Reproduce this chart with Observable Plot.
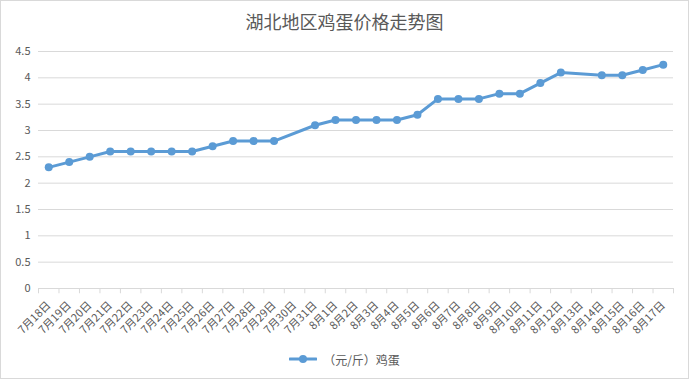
<!DOCTYPE html>
<html>
<head>
<meta charset="utf-8">
<script src="https://cdn.jsdelivr.net/npm/d3@7"></script>
<script src="https://cdn.jsdelivr.net/npm/@observablehq/plot@0.6"></script>
<style>
  body { margin: 0; background: #fff; }
  #wrap { position: relative; width: 689px; height: 379px; overflow: hidden; font-family: "Noto Sans CJK SC", "Noto Sans", sans-serif; }
  #frame { position: absolute; left: 0; top: 0; width: 687px; height: 377px; border: 1px solid #d9d9d9; pointer-events: none; }
  #title { position: absolute; left: 0; top: 0; width: 689px; height: 42px; line-height: 42px; text-align: center; font-size: 18px; color: #595959; }
  #chart { position: absolute; left: 0; top: 40px; }
  #legend { position: absolute; left: 0; top: 340px; width: 689px; height: 38px; display: flex; align-items: center; justify-content: center; font-size: 12px; color: #595959; }
  #legend svg { margin-right: 6px; }
</style>
</head>
<body>
<div id="wrap">
  <div id="title">湖北地区鸡蛋价格走势图</div>
  <div id="chart"></div>
  <div id="legend"></div>
  <div id="frame"></div>
</div>
<script>
const dates = ["7月18日","7月19日","7月20日","7月21日","7月22日","7月23日","7月24日","7月25日","7月26日","7月27日","7月28日","7月29日","7月30日","7月31日",
  "8月1日","8月2日","8月3日","8月4日","8月5日","8月6日","8月7日","8月8日","8月9日","8月10日","8月11日","8月12日","8月13日","8月14日","8月15日","8月16日","8月17日"];
const prices = [2.3,2.4,2.5,2.6,2.6,2.6,2.6,2.6,2.7,2.8,2.8,2.8,null,3.1,
  3.2,3.2,3.2,3.2,3.3,3.6,3.6,3.6,3.7,3.7,3.9,4.1,null,4.05,4.05,4.15,4.25];
const yTicks = [0,0.5,1,1.5,2,2.5,3,3.5,4,4.5];
const seriesName = "（元/斤）鸡蛋";
const color = "#5b9bd5";

const data = dates.map((d, i) => ({date: d, price: prices[i]}));
const present = data.filter(d => d.price != null);

const W = 689, H = 300, mL = 38, mR = 16;
const bw = (W - mL - mR) / dates.length;

const chart = Plot.plot({
  width: W, height: H,
  marginTop: 11, marginBottom: 52, marginLeft: mL, marginRight: mR,
  x: {type: "band", domain: dates, padding: 0, round: false},
  y: {domain: [0, 4.5]},
  style: {fontFamily: '"Noto Sans CJK SC", "Noto Sans", sans-serif', fontSize: "11px", color: "#595959", background: "transparent"},
  marks: [
    Plot.ruleY(yTicks.filter(v => v > 0), {stroke: "#d9d9d9", strokeWidth: 1}),
    Plot.ruleY([0], {stroke: "#d9d9d9", strokeWidth: 1}),
    Plot.ruleX(dates, {x: d => d, y1: 0, y2: -0.1, dx: -bw / 2, stroke: "#d9d9d9"}),
    Plot.ruleX([dates[dates.length - 1]], {x: d => d, y1: 0, y2: -0.1, dx: bw / 2, stroke: "#d9d9d9"}),
    Plot.axisY({ticks: yTicks, tickSize: 0, tickPadding: 8, tickFormat: d => String(d), label: null, fill: "#595959"}),
    Plot.axisX({tickSize: 0, tickRotate: -45, tickPadding: 15, label: null, fill: "#595959"}),
    Plot.line(present, {x: "date", y: "price", stroke: color, strokeWidth: 3, strokeLinejoin: "round", strokeLinecap: "round"}),
    Plot.dot(present, {x: "date", y: "price", r: 4, fill: color})
  ]
});
document.getElementById("chart").appendChild(chart);

const legend = document.getElementById("legend");
const sw = d3.create("svg").attr("width", 28).attr("height", 12);
sw.append("line").attr("x1", 1).attr("x2", 27).attr("y1", 6).attr("y2", 6).attr("stroke", color).attr("stroke-width", 3).attr("stroke-linecap", "round");
sw.append("circle").attr("cx", 14).attr("cy", 6).attr("r", 4).attr("fill", color);
legend.appendChild(sw.node());
const lt = document.createElement("span");
lt.textContent = seriesName;
legend.appendChild(lt);
</script>
</body>
</html>
